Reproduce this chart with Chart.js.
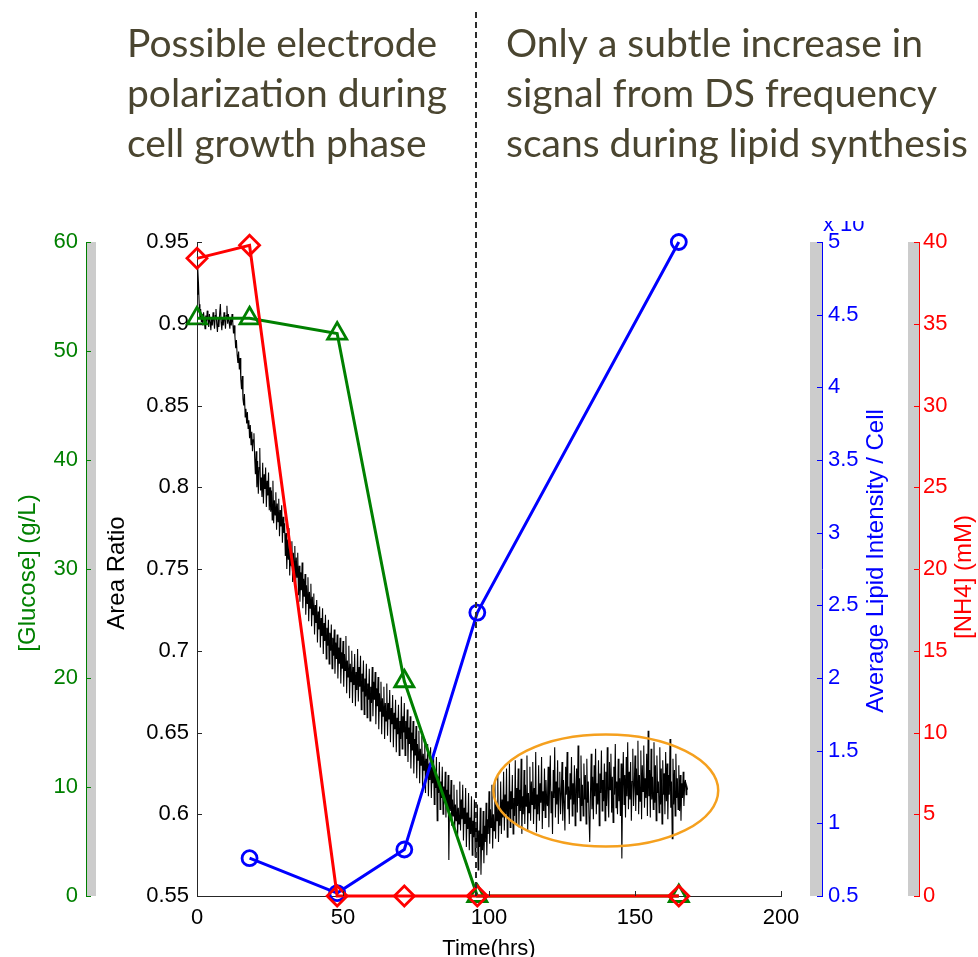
<!DOCTYPE html>
<html>
<head>
<meta charset="utf-8">
<script src="https://cdn.jsdelivr.net/npm/chart.js@4.4.1/dist/chart.umd.min.js"></script>
<style>
  html, body { margin: 0; padding: 0; background: #fff; overflow: hidden; }
  #wrap { width: 978px; height: 957px; position: relative; }
</style>
</head>
<body>
<div id="wrap"><canvas id="myChart" width="978" height="957"></canvas></div>
<script>
// sampled culture measurements (hours)
const sampleHours = [0, 18, 48, 71, 96, 165];
const glucose = [53.0, 53.0, 51.6, 19.7, 0, 0];     // g/L
const lipid = [null, 0.76, 0.52, 0.82, 2.45, 5.0];  // x 10^4
const nh4 = [39.0, 39.8, 0, 0, 0, 0];               // mM

// DS area ratio trace, one reading every quarter hour from t = 0 (20 per row = 5 h)
const areaStepHours = 0.25;
const areaRatio = [
  0.918,0.934,0.925,0.912,0.904,0.909,0.901,0.906,0.899,0.907,0.902,0.897,0.905,0.900,0.908,0.903,0.898,0.906,0.901,0.896,
  0.904,0.899,0.907,0.902,0.897,0.905,0.909,0.900,0.895,0.903,0.898,0.906,0.912,0.901,0.896,0.904,0.899,0.907,0.902,0.897,
  0.905,0.911,0.900,0.906,0.901,0.897,0.904,0.899,0.906,0.901,0.894,0.899,0.892,0.885,0.890,0.881,0.876,0.883,0.872,0.879,
  0.866,0.860,0.868,0.854,0.850,0.857,0.843,0.848,0.839,0.846,0.836,0.841,0.830,0.838,0.826,0.834,0.822,0.829,0.833,0.818,
  0.808,0.822,0.800,0.816,0.796,0.812,0.824,0.798,0.806,0.794,0.815,0.790,0.808,0.799,0.812,0.788,0.804,0.795,0.809,0.786,
  0.800,0.785,0.798,0.780,0.804,0.778,0.792,0.783,0.797,0.774,0.790,0.779,0.793,0.770,0.786,0.776,0.789,0.766,0.782,0.772,
  0.778,0.758,0.772,0.750,0.768,0.756,0.775,0.746,0.763,0.752,0.767,0.742,0.760,0.749,0.764,0.738,0.757,0.745,0.760,0.734,
  0.752,0.730,0.748,0.737,0.754,0.726,0.744,0.733,0.747,0.722,0.740,0.729,0.745,0.718,0.736,0.726,0.741,0.715,0.733,0.722,
  0.735,0.710,0.728,0.717,0.731,0.705,0.724,0.713,0.727,0.702,0.720,0.709,0.726,0.698,0.717,0.706,0.722,0.695,0.714,0.703,
  0.719,0.692,0.711,0.700,0.716,0.689,0.708,0.697,0.713,0.686,0.705,0.695,0.710,0.683,0.702,0.692,0.708,0.680,0.699,0.689,
  0.706,0.678,0.698,0.688,0.709,0.674,0.694,0.684,0.703,0.671,0.692,0.681,0.700,0.668,0.690,0.679,0.698,0.666,0.687,0.676,
  0.701,0.669,0.690,0.678,0.697,0.664,0.686,0.675,0.694,0.661,0.683,0.672,0.692,0.659,0.680,0.670,0.689,0.657,0.678,0.668,
  0.690,0.660,0.681,0.670,0.687,0.655,0.677,0.666,0.684,0.652,0.674,0.663,0.681,0.649,0.671,0.660,0.678,0.646,0.668,0.657,
  0.680,0.648,0.668,0.658,0.676,0.644,0.665,0.655,0.673,0.641,0.662,0.652,0.670,0.638,0.659,0.649,0.667,0.636,0.657,0.646,
  0.672,0.640,0.660,0.650,0.668,0.636,0.657,0.646,0.664,0.632,0.653,0.643,0.660,0.628,0.650,0.639,0.657,0.625,0.646,0.636,
  0.654,0.622,0.643,0.633,0.651,0.619,0.640,0.630,0.648,0.616,0.637,0.627,0.646,0.613,0.634,0.624,0.643,0.611,0.631,0.621,
  0.641,0.610,0.629,0.619,0.638,0.606,0.626,0.616,0.635,0.596,0.623,0.613,0.632,0.603,0.620,0.610,0.629,0.600,0.617,0.607,
  0.626,0.598,0.615,0.605,0.624,0.572,0.612,0.602,0.621,0.593,0.609,0.599,0.618,0.590,0.606,0.596,0.615,0.587,0.604,0.594,
  0.620,0.590,0.609,0.597,0.618,0.584,0.604,0.594,0.616,0.580,0.601,0.591,0.613,0.578,0.598,0.588,0.611,0.575,0.596,0.586,
  0.609,0.574,0.593,0.583,0.606,0.566,0.590,0.580,0.604,0.563,0.588,0.578,0.602,0.570,0.593,0.583,0.607,0.575,0.597,0.588,
  0.614,0.582,0.603,0.592,0.618,0.579,0.600,0.590,0.621,0.585,0.606,0.596,0.624,0.583,0.603,0.593,0.620,0.588,0.609,0.598,
  0.626,0.590,0.612,0.600,0.628,0.586,0.608,0.597,0.631,0.592,0.614,0.603,0.624,0.588,0.610,0.599,0.633,0.594,0.616,0.605,
  0.628,0.592,0.615,0.602,0.634,0.588,0.611,0.600,0.627,0.594,0.618,0.605,0.636,0.590,0.613,0.601,0.629,0.596,0.620,0.606,
  0.632,0.594,0.616,0.603,0.638,0.589,0.612,0.600,0.630,0.596,0.619,0.607,0.635,0.591,0.614,0.602,0.628,0.598,0.621,0.608,
  0.605,0.629,0.592,0.618,0.636,0.601,0.614,0.588,0.627,0.610,0.641,0.598,0.620,0.606,0.633,0.594,0.616,0.626,0.600,0.612,
  0.632,0.596,0.621,0.607,0.590,0.629,0.612,0.638,0.603,0.617,0.594,0.625,0.609,0.635,0.599,0.619,0.606,0.630,0.593,0.615,
  0.628,0.601,0.642,0.610,0.622,0.596,0.636,0.605,0.618,0.599,0.631,0.609,0.624,0.594,0.634,0.607,0.620,0.598,0.583,0.612,
  0.637,0.603,0.623,0.597,0.630,0.611,0.640,0.600,0.619,0.606,0.633,0.593,0.625,0.613,0.639,0.602,0.621,0.608,0.631,0.596,
  0.626,0.605,0.641,0.610,0.598,0.632,0.615,0.637,0.601,0.623,0.595,0.629,0.612,0.643,0.604,0.620,0.600,0.634,0.608,0.622,
  0.599,0.631,0.573,0.616,0.638,0.606,0.624,0.598,0.635,0.611,0.644,0.603,0.626,0.609,0.632,0.596,0.620,0.640,0.605,0.617,
  0.636,0.602,0.628,0.612,0.645,0.600,0.624,0.608,0.639,0.597,0.630,0.614,0.642,0.604,0.622,0.610,0.637,0.599,0.651,0.611,
  0.627,0.598,0.640,0.609,0.623,0.603,0.644,0.607,0.630,0.596,0.636,0.613,0.620,0.601,0.641,0.606,0.628,0.594,0.633,0.612,
  0.625,0.600,0.638,0.608,0.631,0.597,0.624,0.612,0.646,0.604,0.620,0.585,0.634,0.606,0.627,0.599,0.637,0.610,0.622,0.603,
  0.630,0.602,0.624,0.596,0.619,0.610,0.626,0.605,0.618,0.621,0.612,0.617,0.615
];

// tick values
const timeTicks = [0, 50, 100, 150, 200];
const areaTicks = [0.55, 0.6, 0.65, 0.7, 0.75, 0.8, 0.85, 0.9, 0.95];
const glucoseTicks = [0, 10, 20, 30, 40, 50, 60];
const lipidTicks = [0.5, 1, 1.5, 2, 2.5, 3, 3.5, 4, 4.5, 5];
const nh4Ticks = [0, 5, 10, 15, 20, 25, 30, 35, 40];

// annotations
const phaseSplitHour = 95.5;
const ellipseCenter = [140, 0.6145];
const ellipseRadius = [38.5, 0.0343];
const leftNote = ["Possible electrode", "polarization during", "cell growth phase"];
const rightNote = ["Only a subtle increase in", "signal from DS frequency", "scans during lipid synthesis"];

const SANS = '"Liberation Sans", Arial, sans-serif';
Chart.defaults.font.family = SANS;
Chart.defaults.font.size = 22;

const pts = (vals) => vals.map((v, i) => ({ x: sampleHours[i], y: v }));
const fmt = (v) => String(+Number(v).toFixed(2));
const setTicks = (list) => (s) => { s.ticks = list.map((v) => ({ value: v })); };
const noGrid = { display: false, drawTicks: false };

const decor = {
  id: "decor",
  beforeDraw(chart) {
    const { ctx, chartArea: a, scales: s } = chart;
    ctx.save();
    ctx.fillStyle = "#cccccc";
    ctx.fillRect(s.yG.right, a.top, 10, a.bottom - a.top);
    ctx.fillRect(s.yB.left - 12, a.top, 12, a.bottom - a.top);
    ctx.fillRect(s.yR.left - 11, a.top, 11, a.bottom - a.top);
    ctx.restore();
  },
  afterDraw(chart) {
    const { ctx, chartArea: a, scales: s } = chart;
    ctx.save();

    // small tick marks
    const mark = (scale, x0, x1, color) => {
      ctx.strokeStyle = color;
      ctx.lineWidth = 1;
      scale.ticks.forEach((t) => {
        const y = Math.round(scale.getPixelForValue(t.value)) + 0.5;
        ctx.beginPath(); ctx.moveTo(x0, y); ctx.lineTo(x1, y); ctx.stroke();
      });
    };
    mark(s.y, a.left, a.left + 5, "#262626");
    mark(s.yG, s.yG.right, s.yG.right + 5, "#008000");
    mark(s.yB, s.yB.left - 5, s.yB.left, "#0000ff");
    mark(s.yR, s.yR.left - 5, s.yR.left, "#ff0000");
    ctx.strokeStyle = "#262626";
    s.x.ticks.forEach((t) => {
      const x = Math.round(s.x.getPixelForValue(t.value)) + 0.5;
      ctx.beginPath(); ctx.moveTo(x, a.bottom); ctx.lineTo(x, a.bottom - 5); ctx.stroke();
    });

    // axis titles
    const midY = (a.top + a.bottom) / 2;
    const vTitle = (text, x, y, color) => {
      ctx.save();
      ctx.translate(x, y);
      ctx.rotate(-Math.PI / 2);
      ctx.fillStyle = color;
      ctx.font = "24px " + SANS;
      ctx.textAlign = "center";
      ctx.textBaseline = "middle";
      ctx.fillText(text, 0, 0);
      ctx.restore();
    };
    vTitle("[Glucose] (g/L)", s.yG.left + 28, midY + 4, "#008000");
    vTitle("Area Ratio", s.y.left + 31, midY + 4, "#000000");
    vTitle("Average Lipid Intensity / Cell", s.yB.left + 54, midY - 8, "#0000ff");
    vTitle("[NH4] (mM)", s.yR.left + 45, midY + 8, "#ff0000");

    ctx.fillStyle = "#000";
    ctx.font = "22px " + SANS;
    ctx.textAlign = "center";
    ctx.textBaseline = "alphabetic";
    ctx.fillText("Time(hrs)", (a.left + a.right) / 2, 955);

    // exponent label, cut at the top like the original
    ctx.save();
    ctx.beginPath();
    ctx.rect(s.yB.left - 5, 221, 70, 20);
    ctx.clip();
    ctx.fillStyle = "#0000ff";
    ctx.font = "22px " + SANS;
    ctx.textAlign = "left";
    ctx.fillText("x 10", s.yB.left + 1, 231);
    ctx.restore();

    // phase divider
    const xd = Math.round(s.x.getPixelForValue(phaseSplitHour));
    ctx.strokeStyle = "#2b2b2b";
    ctx.lineWidth = 2;
    ctx.setLineDash([6, 4]);
    ctx.beginPath(); ctx.moveTo(xd, 12); ctx.lineTo(xd, a.bottom); ctx.stroke();
    ctx.setLineDash([]);

    // highlighted plateau
    const cx = s.x.getPixelForValue(ellipseCenter[0]);
    const cy = s.y.getPixelForValue(ellipseCenter[1]);
    const rx = s.x.getPixelForValue(ellipseCenter[0] + ellipseRadius[0]) - cx;
    const ry = cy - s.y.getPixelForValue(ellipseCenter[1] + ellipseRadius[1]);
    ctx.strokeStyle = "#f5a01e";
    ctx.lineWidth = 2.5;
    ctx.beginPath(); ctx.ellipse(cx, cy, rx, ry, 0, 0, Math.PI * 2); ctx.stroke();

    // notes above the plot
    ctx.fillStyle = "#4a4530";
    ctx.font = '39px Lato, "Noto Sans", sans-serif';
    ctx.textAlign = "left";
    leftNote.forEach((t, i) => ctx.fillText(t, 127, 57 + i * 50));
    rightNote.forEach((t, i) => ctx.fillText(t, 506, 57 + i * 50));

    ctx.restore();
  },
};

new Chart(document.getElementById("myChart").getContext("2d"), {
  type: "line",
  data: {
    datasets: [
      {
        label: "[NH4]",
        data: pts(nh4),
        yAxisID: "yR",
        borderColor: "#ff0000",
        borderWidth: 3,
        pointStyle: "rectRot",
        pointRadius: 10,
        pointBorderWidth: 2.8,
        pointBackgroundColor: "rgba(0,0,0,0)",
        pointBorderColor: "#ff0000",
        clip: false,
      },
      {
        label: "[Glucose]",
        data: pts(glucose),
        yAxisID: "yG",
        borderColor: "#008000",
        borderWidth: 3,
        pointStyle: "triangle",
        pointRadius: 11,
        pointBorderWidth: 2.8,
        pointBackgroundColor: "rgba(0,0,0,0)",
        pointBorderColor: "#008000",
        clip: false,
      },
      {
        label: "Lipid",
        data: pts(lipid),
        yAxisID: "yB",
        borderColor: "#0000ff",
        borderWidth: 3,
        pointStyle: "circle",
        pointRadius: 7.5,
        pointBorderWidth: 2.8,
        pointBackgroundColor: "rgba(0,0,0,0)",
        pointBorderColor: "#0000ff",
        clip: false,
      },
      {
        label: "Area Ratio",
        data: areaRatio.map((v, i) => ({ x: i * areaStepHours, y: v })),
        yAxisID: "y",
        borderColor: "#000000",
        borderWidth: 1.1,
        pointRadius: 0,
      },
    ],
  },
  options: {
    responsive: false,
    animation: false,
    events: [],
    layout: { padding: { top: 242, left: 0, right: 0, bottom: 0 } },
    plugins: { legend: { display: false }, tooltip: { enabled: false } },
    elements: { line: { tension: 0 } },
    scales: {
      x: {
        type: "linear",
        position: "bottom",
        min: 0,
        max: 200,
        afterBuildTicks: setTicks(timeTicks),
        ticks: { color: "#000", padding: 9, callback: fmt },
        grid: noGrid,
        border: { color: "#262626" },
        afterFit: (s) => { s.height = 61; },
      },
      y: {
        type: "linear",
        position: "left",
        weight: 0,
        min: 0.55,
        max: 0.95,
        afterBuildTicks: setTicks(areaTicks),
        ticks: { color: "#000", padding: 8, callback: fmt },
        grid: noGrid,
        border: { color: "#262626" },
        afterFit: (s) => { s.width = 111; },
      },
      yG: {
        type: "linear",
        position: "left",
        weight: 1,
        min: 0,
        max: 60,
        afterBuildTicks: setTicks(glucoseTicks),
        ticks: { color: "#008000", padding: 8, callback: fmt },
        grid: noGrid,
        border: { color: "#008000" },
        afterFit: (s) => { s.width = 86; },
      },
      ySp: {
        type: "linear",
        position: "right",
        weight: 0,
        ticks: { display: false },
        grid: noGrid,
        border: { display: false },
        afterFit: (s) => { s.width = 41; },
      },
      yB: {
        type: "linear",
        position: "right",
        weight: 1,
        min: 0.5,
        max: 5,
        afterBuildTicks: setTicks(lipidTicks),
        ticks: { color: "#0000ff", padding: 6, callback: fmt },
        grid: noGrid,
        border: { color: "#0000ff" },
        afterFit: (s) => { s.width = 97; },
      },
      yR: {
        type: "linear",
        position: "right",
        weight: 2,
        min: 0,
        max: 40,
        afterBuildTicks: setTicks(nh4Ticks),
        ticks: { color: "#ff0000", padding: 4, callback: fmt },
        grid: noGrid,
        border: { color: "#ff0000" },
        afterFit: (s) => { s.width = 59; },
      },
    },
  },
  plugins: [decor],
});
</script>
</body>
</html>
